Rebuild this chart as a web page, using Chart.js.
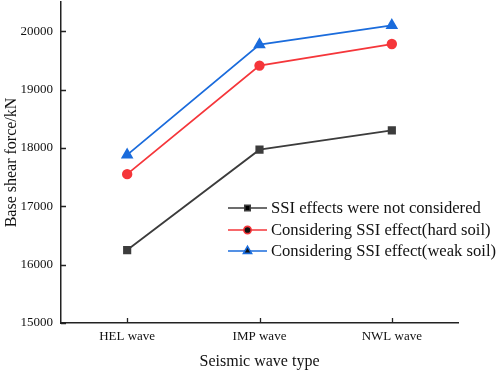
<!DOCTYPE html>
<html>
<head>
<meta charset="utf-8">
<script src="https://cdn.jsdelivr.net/npm/chart.js@4"></script>
<style>
  html, body { margin: 0; padding: 0; background: #fff; }
  #wrap { width: 498px; height: 371px; }
</style>
</head>
<body>
<div id="wrap"><canvas id="chart" width="498" height="371"></canvas></div>
<script>
const waveTypes = ['HEL wave', 'IMP wave', 'NWL wave'];
const noSsi = [16250, 17970, 18300];
const hardSoil = [17550, 19410, 19780];
const weakSoil = [17880, 19770, 20100];
const yTickValues = [15000, 16000, 17000, 18000, 19000, 20000];
const seriesNames = [
  'SSI effects were not considered',
  'Considering SSI effect(hard soil)',
  'Considering SSI effect(weak soil)',
];

const serif = "'Liberation Serif', 'Times New Roman', serif";
const axisColor = '#222';

// short ticks pointing into the plot, like the original figure
const innerTicks = {
  id: 'innerTicks',
  afterDraw(chart) {
    const { ctx, chartArea, scales } = chart;
    ctx.save();
    ctx.strokeStyle = axisColor;
    ctx.lineWidth = 1.3;
    ctx.beginPath();
    scales.y.ticks.forEach((t, i) => {
      const y = Math.round(scales.y.getPixelForTick(i)) + 0.5;
      ctx.moveTo(chartArea.left, y);
      ctx.lineTo(chartArea.left + 5, y);
    });
    scales.x.ticks.forEach((t, i) => {
      const x = Math.round(scales.x.getPixelForTick(i)) + 0.5;
      ctx.moveTo(x, chartArea.bottom);
      ctx.lineTo(x, chartArea.bottom - 5);
    });
    ctx.stroke();
    ctx.restore();
  },
};

const insideLegend = {
  id: 'insideLegend',
  afterDraw(chart) {
    const { ctx } = chart;
    const x0 = 228, x1 = 267, textX = 271;
    const rows = [208, 230, 251];
    ctx.save();
    ctx.font = '16.6px ' + serif;
    ctx.textBaseline = 'middle';
    chart.data.datasets.forEach((ds, i) => {
      const y = rows[i];
      ctx.strokeStyle = ds.borderColor;
      ctx.lineWidth = 1.6;
      ctx.beginPath();
      ctx.moveTo(x0, y);
      ctx.lineTo(x1, y);
      ctx.stroke();
      Chart.helpers.drawPoint(ctx, {
        pointStyle: ds.pointStyle,
        radius: ds.pointRadius * 0.85,
        rotation: 0,
        borderWidth: 1,
      }, (x0 + x1) / 2, y);
      ctx.fillStyle = '#111';
      ctx.fillText(ds.label, textX, y + 1);
    });
    ctx.restore();
  },
};

function lineSet(label, data, color, style, radius) {
  return {
    label,
    data,
    borderColor: color,
    backgroundColor: color,
    pointBackgroundColor: color,
    pointBorderColor: color,
    pointStyle: style,
    pointRadius: radius,
    pointHoverRadius: radius,
    borderWidth: 1.8,
    tension: 0,
  };
}

new Chart(document.getElementById('chart'), {
  type: 'line',
  data: {
    labels: waveTypes,
    datasets: [
      lineSet(seriesNames[0], noSsi, '#3c3c3c', 'rect', 4.5),
      lineSet(seriesNames[1], hardSoil, '#f5363a', 'circle', 4.3),
      lineSet(seriesNames[2], weakSoil, '#1b6cdc', 'triangle', 5.5),
    ],
  },
  options: {
    responsive: false,
    animation: false,
    layout: { autoPadding: false, padding: { top: 2, right: 40, left: 0, bottom: 0 } },
    plugins: {
      legend: { display: false },
      tooltip: { enabled: false },
    },
    scales: {
      x: {
        offset: true,
        grid: { display: false, drawTicks: false },
        border: { display: true, color: axisColor, width: 1.5 },
        ticks: { color: '#111', font: { family: serif, size: 13 }, padding: 6, maxRotation: 0 },
        title: {
          display: true, text: 'Seismic wave type', color: '#111',
          font: { family: serif, size: 16 }, padding: { top: 0, bottom: 0 },
        },
        afterFit(scale) { scale.height = 48; },
      },
      y: {
        min: 15000,
        max: 20500,
        grid: { display: false, drawTicks: false },
        border: { display: true, color: axisColor, width: 1.5 },
        ticks: {
          autoSkip: false,
          color: '#111',
          font: { family: serif, size: 13, lineHeight: 0.3 },
          padding: 8,
          callback: value => String(value),
        },
        afterBuildTicks(scale) {
          scale.ticks = yTickValues.map(value => ({ value }));
        },
        title: {
          display: true, text: 'Base shear force/kN', color: '#111',
          font: { family: serif, size: 16 }, padding: { top: 2, bottom: 0 },
        },
        afterFit(scale) {
          scale.width = 61;
          scale.paddingTop = 0;
          scale.paddingBottom = 0;
        },
      },
    },
  },
  plugins: [innerTicks, insideLegend],
});
</script>
</body>
</html>
